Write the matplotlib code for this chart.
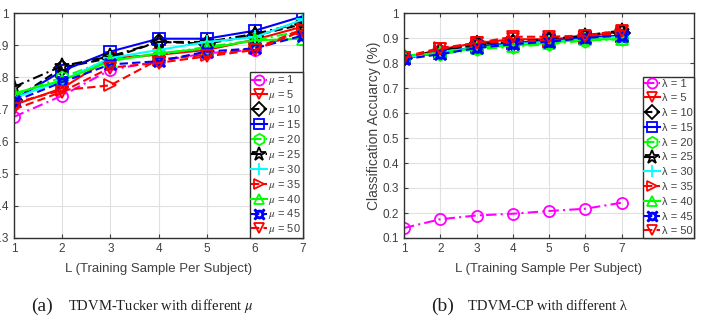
import matplotlib
matplotlib.use("Agg")
import matplotlib.pyplot as plt

L = [1, 2, 3, 4, 5, 6, 7]
params = [1, 5, 10, 15, 20, 25, 30, 35, 40, 45, 50]

# TDVM-Tucker, accuracy per mu
tucker_mu1 = [0.677, 0.743, 0.823, 0.850, 0.875, 0.885, 0.948]
tucker_mu5 = [0.714, 0.766, 0.860, 0.870, 0.885, 0.917, 0.958]
tucker_mu10 = [0.730, 0.830, 0.860, 0.910, 0.905, 0.930, 0.965]
tucker_mu15 = [0.730, 0.820, 0.880, 0.920, 0.920, 0.945, 0.990]
tucker_mu20 = [0.745, 0.800, 0.855, 0.870, 0.895, 0.915, 0.945]
tucker_mu25 = [0.770, 0.835, 0.865, 0.910, 0.910, 0.935, 0.970]
tucker_mu30 = [0.735, 0.790, 0.860, 0.885, 0.910, 0.925, 0.980]
tucker_mu35 = [0.720, 0.760, 0.775, 0.855, 0.870, 0.890, 0.950]
tucker_mu40 = [0.750, 0.790, 0.850, 0.875, 0.890, 0.915, 0.920]
tucker_mu45 = [0.725, 0.785, 0.840, 0.850, 0.880, 0.890, 0.930]
tucker_mu50 = [0.700, 0.755, 0.830, 0.845, 0.865, 0.885, 0.945]

# TDVM-CP, accuracy per lambda
cp_lam1 = [0.140, 0.175, 0.190, 0.197, 0.208, 0.217, 0.241]
cp_lam5 = [0.815, 0.855, 0.880, 0.895, 0.895, 0.905, 0.925]
cp_lam10 = [0.820, 0.845, 0.875, 0.880, 0.890, 0.905, 0.920]
cp_lam15 = [0.820, 0.840, 0.865, 0.880, 0.890, 0.900, 0.910]
cp_lam20 = [0.830, 0.835, 0.855, 0.865, 0.875, 0.890, 0.895]
cp_lam25 = [0.825, 0.850, 0.875, 0.885, 0.895, 0.910, 0.930]
cp_lam30 = [0.820, 0.845, 0.860, 0.875, 0.885, 0.895, 0.905]
cp_lam35 = [0.825, 0.860, 0.880, 0.885, 0.890, 0.905, 0.920]
cp_lam40 = [0.830, 0.840, 0.860, 0.870, 0.880, 0.895, 0.895]
cp_lam45 = [0.815, 0.835, 0.860, 0.875, 0.885, 0.900, 0.910]
cp_lam50 = [0.820, 0.855, 0.880, 0.905, 0.905, 0.910, 0.930]

tucker = [tucker_mu1, tucker_mu5, tucker_mu10, tucker_mu15, tucker_mu20, tucker_mu25,
          tucker_mu30, tucker_mu35, tucker_mu40, tucker_mu45, tucker_mu50]
cp = [cp_lam1, cp_lam5, cp_lam10, cp_lam15, cp_lam20, cp_lam25,
      cp_lam30, cp_lam35, cp_lam40, cp_lam45, cp_lam50]

# colour, marker, line style (MATLAB-ish)
styles = [
    ("#ff00ff", "o", (0, (5, 2, 1, 2))),
    ("#ff0000", "v", "-"),
    ("#000000", "D", (0, (4, 2))),
    ("#0000ff", "s", "-"),
    ("#00ff00", "h", (0, (5, 2, 1, 2))),
    ("#000000", "*", (0, (5, 2, 1, 2))),
    ("#00ffff", "+", "-"),
    ("#ff0000", ">", (0, (4, 2))),
    ("#00ff00", "^", "-"),
    ("#0000ff", "$\u2733$", (0, (4, 2))),
    ("#ff0000", "v", (0, (4, 2))),
]

plt.rcParams["font.family"] = ["Liberation Sans", "DejaVu Sans"]
plt.rcParams["mathtext.fontset"] = "stix"
tick_gray = "#404040"

fig = plt.figure(figsize=(7.03, 3.18), dpi=100)
ax1 = fig.add_axes([14 / 703, 80 / 318, 289 / 703, 225 / 318])
ax2 = fig.add_axes([404 / 703, 80 / 318, 290 / 703, 225 / 318])


def draw(ax, data, sym, ylim, yticks, xlim, spacing):
    for p, vals, (c, m, ls) in zip(params, data, styles):
        ms = {"*": 11, "h": 9, "+": 10}.get(m, 8)
        ax.plot(L, vals, color=c, linestyle=ls, linewidth=1.5, marker=m,
                markersize=ms, markerfacecolor="none", markeredgecolor=c,
                markeredgewidth=1.3, label=f"{sym} = {p}")
    ax.set_xlim(*xlim)
    ax.set_ylim(*ylim)
    ax.set_xticks(L)
    ax.set_yticks(yticks)
    ax.grid(True, color="#e0e0e0", linewidth=0.8)
    ax.set_axisbelow(True)
    ax.tick_params(direction="in", length=3, labelsize=8.5, colors=tick_gray,
                   top=True, right=True)
    for s in ax.spines.values():
        s.set_color("#303030")
        s.set_linewidth(1.0)
    ax.set_xlabel("L (Training Sample Per Subject)", fontsize=9.5, color=tick_gray, labelpad=6)
    leg = ax.legend(loc="lower right", bbox_to_anchor=(1, 0), fontsize=8,
                    borderaxespad=0, handlelength=1.4, handletextpad=0.15,
                    labelspacing=spacing, borderpad=0.15, fancybox=False,
                    edgecolor="#303030", framealpha=1, markerscale=0.9)
    leg.get_frame().set_linewidth(1.0)
    for t in leg.get_texts():
        t.set_color(tick_gray)
    return leg


yt1 = [0.3, 0.4, 0.5, 0.6, 0.7, 0.8, 0.9, 1.0]
draw(ax1, tucker, "$\\mu$", (0.3, 1.0), yt1, (1, 7), 0.08)
ax1.set_yticklabels(["0.3", "0.4", "0.5", "0.6", "0.7", "0.8", "0.9", "1"])

yt2 = [0.1, 0.2, 0.3, 0.4, 0.5, 0.6, 0.7, 0.8, 0.9, 1.0]
draw(ax2, cp, "\u03bb", (0.1, 1.0), yt2, (1, 9), 0.43)
ax2.set_yticklabels(["0.1", "0.2", "0.3", "0.4", "0.5", "0.6", "0.7", "0.8", "0.9", "1"])
ax2.set_ylabel("Classification Accuarcy (%)", fontsize=10, color=tick_gray, labelpad=1)

serif = ["Liberation Serif", "DejaVu Serif"]
cy = 1 - 306 / 318
fig.text(31 / 703, cy, "(a)", fontsize=14, family=serif, va="center", color="#202020")
fig.text(68 / 703, cy, "TDVM-Tucker with different $\\mu$", fontsize=10.5,
         family=serif, va="center", color="#202020")
fig.text(431 / 703, cy, "(b)", fontsize=14, family=serif, va="center", color="#202020")
fig.text(468 / 703, cy, "TDVM-CP with different \u03bb", fontsize=10.5,
         family=serif, va="center", color="#202020")

fig.savefig("out.png", dpi=100)
